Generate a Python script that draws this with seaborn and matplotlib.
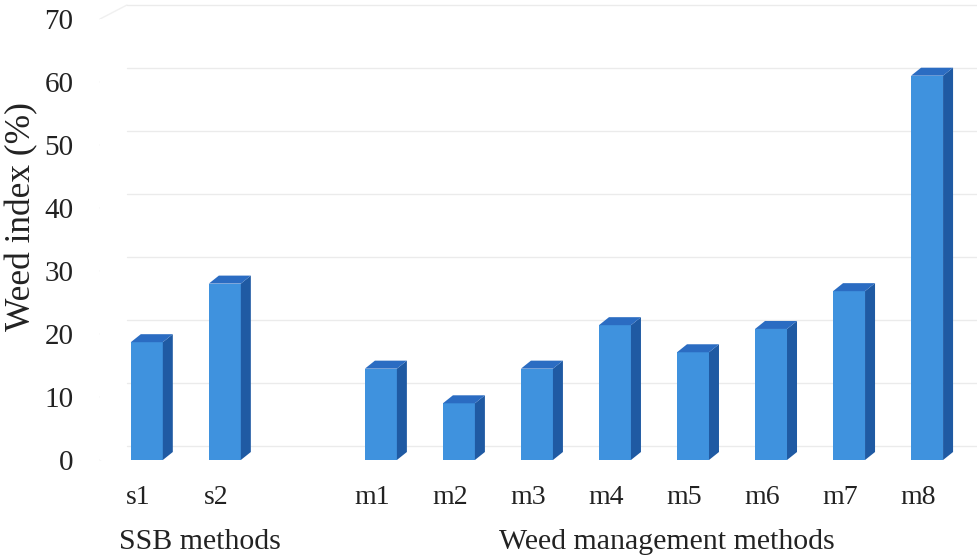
import numpy as np
import pandas as pd
import matplotlib
matplotlib.use("Agg")
import matplotlib.pyplot as plt
import matplotlib.transforms as mtransforms
from matplotlib.patches import Polygon
import seaborn as sns

# Weed index by method
ssb_methods = ["s1", "s2"]
ssb_values = [18.7, 28.0]
weed_methods = ["m1", "m2", "m3", "m4", "m5", "m6", "m7", "m8"]
weed_values = [14.5, 9.0, 14.5, 21.4, 17.1, 20.8, 26.8, 61.0]
y_ticks = [0, 10, 20, 30, 40, 50, 60, 70]
group_titles = ["SSB methods", "Weed management methods"]

sns.set_theme(style="white")
plt.rcParams["font.family"] = ["Liberation Serif", "DejaVu Serif"]

FRONT = "#3f92de"
SIDE = "#1f5aa3"
TOP = "#2b6cc2"
TEXT = "#222222"
GRID = "#ebebeb"

df = pd.DataFrame({
    "method": ssb_methods + weed_methods,
    "value": ssb_values + weed_values,
})
# an empty slot separates the two groups of methods
order = ssb_methods + [" "] + weed_methods

W, H = 977, 558
fig = plt.figure(figsize=(W / 100, H / 100), dpi=100)
ax_left, ax_right, ax_bottom, ax_top = 100, 977, 460, 19
ax = fig.add_axes([ax_left / W, 1 - ax_bottom / H,
                   (ax_right - ax_left) / W, (ax_bottom - ax_top) / H])

sns.barplot(data=df, x="method", y="value", order=order, color=FRONT,
            width=0.41, saturation=1, errorbar=None, ax=ax, zorder=3,
            linewidth=0)

ax.set_xlim(-0.60, 10.64)
ax.set_ylim(0, 70)
ax.set_yticks(y_ticks)
ax.set_yticklabels([str(v) for v in y_ticks])
for s in ax.spines.values():
    s.set_visible(False)
ax.tick_params(axis="both", length=0, colors=TEXT)
ax.tick_params(axis="y", labelsize=21, pad=19)
ax.tick_params(axis="x", labelsize=20, pad=18)
ax.set_xlabel("")
ax.set_ylabel("")
ax.grid(False)

# category labels sit slightly left of the bar fronts (perspective floor)
shift = mtransforms.ScaledTranslation(-9 / 100, 0, fig.dpi_scale_trans)
for lab in ax.get_xticklabels():
    lab.set_transform(lab.get_transform() + shift)

# depth of the bars, expressed in data units from pixel offsets
fig.canvas.draw()
inv = ax.transData.inverted()
p0 = inv.transform((0, 0))
p1 = inv.transform((10, 8))
dx, dy = p1[0] - p0[0], p1[1] - p0[1]

for bar in list(ax.patches):
    x0 = bar.get_x()
    x1 = x0 + bar.get_width()
    h = bar.get_height()
    if not np.isfinite(h) or h <= 0:
        continue
    side = Polygon([(x1, 0), (x1, h), (x1 + dx, h + dy), (x1 + dx, dy)],
                   closed=True, facecolor=SIDE, edgecolor="none", zorder=3)
    top = Polygon([(x0, h), (x1, h), (x1 + dx, h + dy), (x0 + dx, h + dy)],
                  closed=True, facecolor=TOP, edgecolor="none", zorder=3)
    ax.add_patch(side)
    ax.add_patch(top)

# gridlines on the back wall, with short diagonals across the side wall
wall_shift = 14
grid_tr = mtransforms.offset_copy(ax.get_yaxis_transform(), fig=fig,
                                  x=0, y=wall_shift, units="dots")
wall_x0 = (127 - ax_left) / (ax_right - ax_left)
xa = ax.transAxes.transform((0, 0))[0]
xb = ax.transAxes.transform((wall_x0, 0))[0]
for v in y_ticks:
    ax.plot([wall_x0, 1.0], [v, v], transform=grid_tr, color=GRID,
            lw=1.0, zorder=1, clip_on=False)
    ya = ax.transData.transform((0, v))[1]
    pts = fig.transFigure.inverted().transform([(xa, ya), (xb, ya + wall_shift)])
    fig.add_artist(plt.Line2D(pts[:, 0], pts[:, 1], color="#f0f0f0", lw=1.0,
                              zorder=0))

# group titles under the category labels
xt = mtransforms.blended_transform_factory(ax.transData, fig.transFigure)
ax.text(0.68, 1 - 542 / H, group_titles[0], transform=xt, ha="center",
        va="center", fontsize=21.5, color=TEXT)
ax.text(6.67, 1 - 542 / H, group_titles[1], transform=xt, ha="center",
        va="center", fontsize=21.5, color=TEXT)

fig.text(22 / W, 1 - 217 / H, "Weed index (%)", rotation=90, ha="center",
         va="center", fontsize=25.5, color=TEXT)

fig.savefig("out.png", dpi=100, facecolor="white")
